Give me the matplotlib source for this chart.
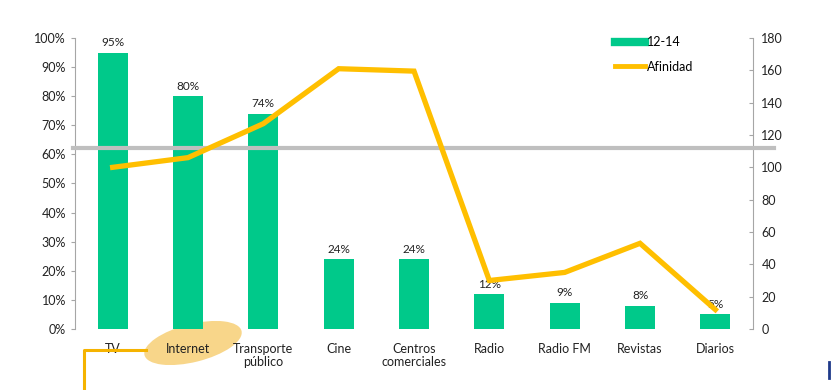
import matplotlib
matplotlib.use("Agg")
import matplotlib.pyplot as plt
from matplotlib.patches import Ellipse
from matplotlib.lines import Line2D
from matplotlib.transforms import IdentityTransform

categories = ["TV", "Internet", "Transporte\npúblico", "Cine", "Centros\ncomerciales",
              "Radio", "Radio FM", "Revistas", "Diarios"]
pct_12_14 = [95, 80, 74, 24, 24, 12, 9, 8, 5]
afinidad = [100, 106, 127, 161, 159.5, 30, 35, 53, 12]
ref_afinidad = 112
left_ticks = [0, 10, 20, 30, 40, 50, 60, 70, 80, 90, 100]
right_ticks = [0, 20, 40, 60, 80, 100, 120, 140, 160, 180]

plt.rcParams['font.family'] = ['Lato', 'DejaVu Sans']
GREEN = "#00C98A"
YELLOW = "#FFBF00"
GREY = "#A6A6A6"

fig = plt.figure(figsize=(8.38, 3.9), dpi=100)
ax = fig.add_axes([0.0895, 0.1564, 0.8091, 0.7462])
x = list(range(len(categories)))
ax.bar(x, pct_12_14, width=0.4, color=GREEN, label="12-14", zorder=2)
for xi, v in zip(x, pct_12_14):
    ax.text(xi, v + 1.5, f"{v}%", ha="center", va="bottom", fontsize=8.5, color="#222222", zorder=5)
ax.set_xlim(-0.5, len(categories) - 0.5)
ax.set_ylim(0, 100)
ax.set_yticks(left_ticks)
ax.set_yticklabels([f"{t}%" for t in left_ticks])
ax.set_xticks(x)
ax.set_xticklabels(categories, fontsize=9, color="#222222", linespacing=1.15)
ax.tick_params(axis="x", length=0, pad=10)
ax.tick_params(axis="y", direction="out", length=3, color=GREY, labelsize=9, labelcolor="#222222")
for s in ["top", "bottom", "right"]:
    ax.spines[s].set_visible(False)
ax.spines["left"].set_color(GREY)

# highlight ellipse behind the "Internet" label (pixel coordinates)
ell = Ellipse((193, 390 - 343), 100, 38, angle=14, transform=IdentityTransform(),
              facecolor="#F8D68A", edgecolor="none", zorder=1, clip_on=False)
ax.add_patch(ell)

ax2 = ax.twinx()
ax2.set_ylim(0, 180)
ax2.set_yticks(right_ticks)
ax2.plot(x, afinidad, color=YELLOW, lw=3.8, label="Afinidad", zorder=4, solid_joinstyle="miter")
ax2.tick_params(axis="y", direction="in", length=3, color=GREY, labelsize=9, labelcolor="#222222", pad=6)
for s in ["top", "bottom", "left"]:
    ax2.spines[s].set_visible(False)
ax2.spines["right"].set_color(GREY)

# reference line
ax2.plot([-0.53, 8.78], [ref_afinidad, ref_afinidad], color="#BFBFBF", lw=3, zorder=3, clip_on=False)

# legend
handles = [Line2D([0], [0], color=GREEN, lw=6), Line2D([0], [0], color=YELLOW, lw=3.5)]
ax2.legend(handles, ["12-14", "Afinidad"], loc="upper left", bbox_to_anchor=(0.78, 1.045),
           frameon=False, fontsize=9, handlelength=2.4, handletextpad=0.15, labelspacing=1.0)

# annotation connector line
fig.add_artist(Line2D([146 / 838, 84 / 838, 84 / 838], [1 - 350 / 390, 1 - 350 / 390, 0],
                      transform=fig.transFigure, color="#F5B300", lw=2.2))
fig.add_artist(Line2D([829 / 838, 829 / 838], [1 - 362 / 390, 1 - 378 / 390],
                      transform=fig.transFigure, color="#1F3A8A", lw=2))

fig.savefig("out.png", dpi=100)
